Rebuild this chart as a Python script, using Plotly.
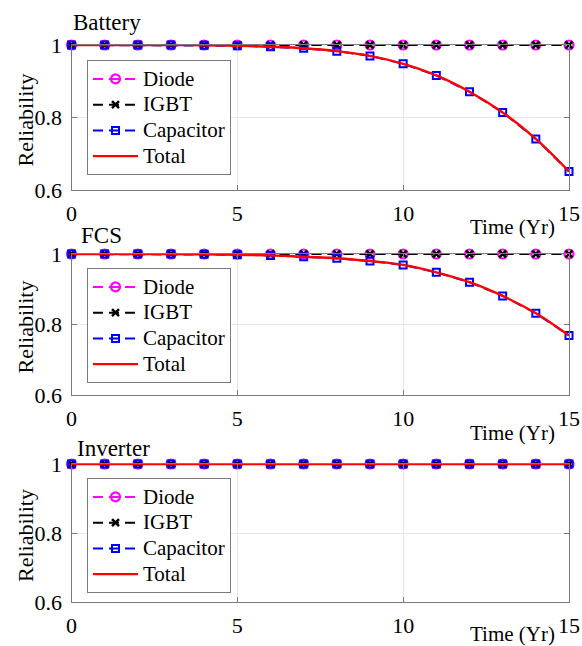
import plotly.graph_objects as go

# Time axis (years)
years = list(range(16))

# Battery converter component reliabilities
battery_diode = [1.0] * 16
battery_igbt = [1.0] * 16
battery_capacitor = [1.0, 1.0, 1.0, 0.9998, 0.9995, 0.998, 0.995, 0.991,
                     0.983, 0.970, 0.948, 0.916, 0.871, 0.814, 0.741, 0.651]
battery_total = [1.0, 1.0, 1.0, 0.9998, 0.9995, 0.998, 0.995, 0.991,
                 0.983, 0.970, 0.948, 0.916, 0.871, 0.814, 0.741, 0.651]

# Fuel-cell converter component reliabilities
fcs_diode = [1.0] * 16
fcs_igbt = [1.0] * 16
fcs_capacitor = [1.0, 1.0, 1.0, 0.9998, 0.999, 0.998, 0.996, 0.992,
                 0.988, 0.980, 0.969, 0.948, 0.920, 0.881, 0.832, 0.769]
fcs_total = [1.0, 1.0, 1.0, 0.9998, 0.999, 0.998, 0.996, 0.992,
             0.988, 0.980, 0.969, 0.948, 0.920, 0.881, 0.832, 0.769]

# Inverter component reliabilities
inv_diode = [1.0] * 16
inv_igbt = [1.0] * 16
inv_capacitor = [1.0] * 16
inv_total = [1.0] * 16

panel_titles = ["Battery", "FCS", "Inverter"]
series_names = ["Diode", "IGBT", "Capacitor", "Total"]
x_ticks = [0, 5, 10, 15]
y_ticks = [0.6, 0.8, 1.0]
y_tick_text = ["0.6", "0.8", "1"]

panels = [
    (battery_diode, battery_igbt, battery_capacitor, battery_total),
    (fcs_diode, fcs_igbt, fcs_capacitor, fcs_total),
    (inv_diode, inv_igbt, inv_capacitor, inv_total),
]

W, H = 582, 646
FONT = "Times New Roman, Liberation Serif, serif"
AXIS_GRAY = "#7a7a7a"
GRID_GRAY = "#e6e6e6"
DASH = "10px,6px"

# plot areas in pixels: (top, bottom)
x_left, x_right = 71.5, 569
rows_px = [(45, 190), (254, 395), (464, 602)]
title_px = [(71, 23), (79, 235), (75, 448)]
legend_px = [(87, 60), (87, 268), (87, 478)]
xlabel_px = [227, 433, 634]


def px_x(v):
    return v / W


def px_y(v):
    return 1 - v / H


def legend_label(name):
    # larger glyphs inside a compact legend row
    return f'<span style="font-size:21px">{name}</span>'


fig = go.Figure()

for i, (d, g, c, t) in enumerate(panels):
    suffix = "" if i == 0 else str(i + 1)
    xa = "x" + suffix
    ya = "y" + suffix
    leg = "legend" + suffix
    common = dict(x=years, xaxis=xa, yaxis=ya, legend=leg, cliponaxis=False)
    fig.add_trace(go.Scatter(
        y=d, name=legend_label(series_names[0]), mode="lines+markers",
        line=dict(color="#ff00ff", width=2, dash=DASH),
        marker=dict(symbol="circle-open", size=9, color="#ff00ff",
                    line=dict(width=2.2, color="#ff00ff")),
        **common))
    fig.add_trace(go.Scatter(
        y=g, name=legend_label(series_names[1]), mode="lines+markers",
        line=dict(color="black", width=2, dash=DASH),
        marker=dict(symbol="x-thin-open", size=7, color="black",
                    line=dict(width=2.5, color="black")),
        **common))
    fig.add_trace(go.Scatter(
        y=c, name=legend_label(series_names[2]), mode="lines+markers",
        line=dict(color="#0000ff", width=2, dash=DASH),
        marker=dict(symbol="square-open", size=7, color="#0000ff",
                    line=dict(width=2, color="#0000ff")),
        **common))
    fig.add_trace(go.Scatter(
        y=t, name=legend_label(series_names[3]), mode="lines",
        line=dict(color="#ff0000", width=2.4, shape="spline"),
        **common))

    top, bot = rows_px[i]
    axis_common = dict(
        showline=True, linecolor=AXIS_GRAY, linewidth=1, mirror="allticks",
        ticks="inside", ticklen=5, tickcolor=AXIS_GRAY, automargin=False,
        showgrid=True, gridcolor=GRID_GRAY, gridwidth=1, zeroline=False,
        tickfont=dict(family=FONT, size=22, color="black"),
    )
    fig.layout["xaxis" + suffix] = dict(
        domain=[px_x(x_left), px_x(x_right)], anchor=ya, range=[0, 15],
        tickvals=x_ticks, ticklabelstandoff=4, **axis_common)
    fig.layout["yaxis" + suffix] = dict(
        domain=[px_y(bot), px_y(top)], anchor=xa, range=[0.6, 1.0],
        tickvals=y_ticks, ticktext=y_tick_text, ticklabelstandoff=4,
        **axis_common)

    lx, ly = legend_px[i]
    fig.layout[leg] = dict(
        x=px_x(lx), y=px_y(ly), xanchor="left", yanchor="top",
        xref="paper", yref="paper",
        bgcolor="white", bordercolor=AXIS_GRAY, borderwidth=1,
        font=dict(family=FONT, size=17.5, color="black"),
        tracegroupgap=0, itemwidth=45,
    )

    tx, ty = title_px[i]
    fig.add_annotation(text=panel_titles[i], x=px_x(tx), y=px_y(ty),
                       xref="paper", yref="paper", xanchor="left", yanchor="middle",
                       showarrow=False, font=dict(family=FONT, size=23, color="black"))
    fig.add_annotation(text="Reliability", x=px_x(25), y=px_y((top + bot) / 2 + 3),
                       xref="paper", yref="paper", xanchor="center", yanchor="middle",
                       textangle=-90, showarrow=False,
                       font=dict(family=FONT, size=22, color="black"))
    fig.add_annotation(text="Time (Yr)", x=px_x(557), y=px_y(xlabel_px[i]),
                       xref="paper", yref="paper", xanchor="right", yanchor="middle",
                       showarrow=False, font=dict(family=FONT, size=21, color="black"))

fig.update_layout(
    width=W, height=H,
    margin=dict(l=0, r=0, t=0, b=0),
    paper_bgcolor="white", plot_bgcolor="white",
    font=dict(family=FONT, color="black"),
    showlegend=True,
)

fig.write_html("out.html")
